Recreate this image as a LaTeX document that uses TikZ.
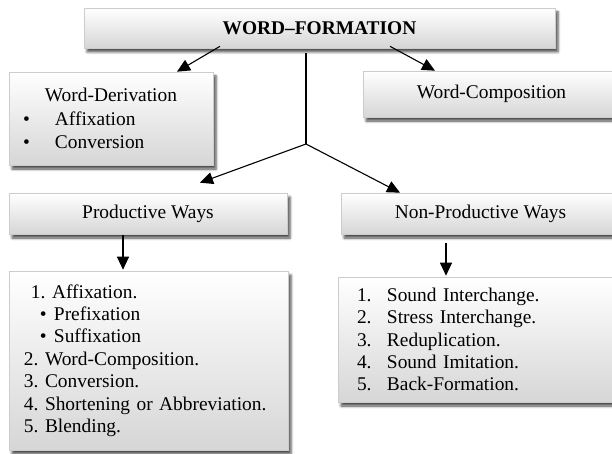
\documentclass[tikz,border=0pt]{standalone}
\usepackage{fontspec}
\setmainfont{Liberation Serif}
\usetikzlibrary{arrows.meta,shadows.blur}
\tikzset{
  wbox/.style={draw=gray!40, line width=0.6pt, top color=white, bottom color=gray!32,
    blur shadow={shadow xshift=3pt, shadow yshift=-4pt, shadow blur radius=2.5pt, shadow opacity=70},
    inner sep=0pt, font=\fontsize{19.4}{22.4}\selectfont\frenchspacing},
  arr/.style={line width=1.1pt, -{Triangle[length=13pt,width=12pt]}}
}
\begin{document}
\begin{tikzpicture}[x=1pt,y=-1pt]
\useasboundingbox (0,0) rectangle (612,454);
\node[wbox, minimum width=471pt, minimum height=40pt] (wf) at (319.5,28) {\textbf{WORD--FORMATION}};
\node[wbox, minimum width=204pt, minimum height=93pt, text width=204pt, align=left,
  font=\fontsize{19.4}{23.8}\selectfont] (der) at (111,118.5)
  {\makebox[204pt]{Word-Derivation}\\
   \makebox[46pt][l]{\hspace*{14pt}\textbullet}Affixation\\
   \makebox[46pt][l]{\hspace*{14pt}\textbullet}Conversion\\[-3pt]};
\node[wbox, minimum width=257pt, minimum height=46pt] (wc) at (491.5,94) {Word-Composition};
\node[wbox, minimum width=278pt, minimum height=41pt] (pw) at (148,213.5) {Productive Ways};
\node[wbox, minimum width=279pt, minimum height=41pt] (npw) at (480.5,213.5) {Non-Productive Ways};
\node[wbox, minimum width=279pt, minimum height=179pt, text width=279pt, align=left] (bl) at (148.5,360.5)
  {\hspace*{22pt}1. Affixation.\\
   \makebox[45pt][l]{\hspace*{31pt}\textbullet}Prefixation\\
   \makebox[45pt][l]{\hspace*{31pt}\textbullet}Suffixation\\
   \hspace*{15pt}2. Word-Composition.\\
   \hspace*{15pt}3. Conversion.\\
   \hspace*{15pt}4. Shortening or Abbreviation.\\
   \hspace*{15pt}5. Blending.};
\node[wbox, minimum width=282pt, minimum height=125pt, text width=282pt, align=left] (br) at (479,339.5)
  {\makebox[49pt][l]{\hspace*{19pt}1.}Sound Interchange.\\
   \makebox[49pt][l]{\hspace*{19pt}2.}Stress Interchange.\\
   \makebox[49pt][l]{\hspace*{19pt}3.}Reduplication.\\
   \makebox[49pt][l]{\hspace*{19pt}4.}Sound Imitation.\\
   \makebox[49pt][l]{\hspace*{19pt}5.}Back-Formation.};
\coordinate (j) at (306,144);
\draw[arr] ([xshift=-99.5pt,yshift=2pt]wf.south) -- ([xshift=66pt]der.north);
\draw[arr] ([xshift=70.5pt,yshift=2pt]wf.south) -- ([xshift=-56.5pt]wc.north);
\draw[line width=1.1pt] ([xshift=-13.5pt,yshift=-5pt]wf.south) -- (j);
\draw[arr] (j) -- ([xshift=52pt,yshift=10pt]pw.north);
\draw[arr] (j) -- ([xshift=-80.5pt]npw.north);
\draw[arr] ([xshift=-25pt,yshift=-1pt]pw.south) -- ([yshift=1pt]bl.north -| 123,0);
\draw[arr] ([xshift=-34.5pt,yshift=-9pt]npw.south) -- ([xshift=-33pt,yshift=1pt]br.north);
\end{tikzpicture}
\end{document}
